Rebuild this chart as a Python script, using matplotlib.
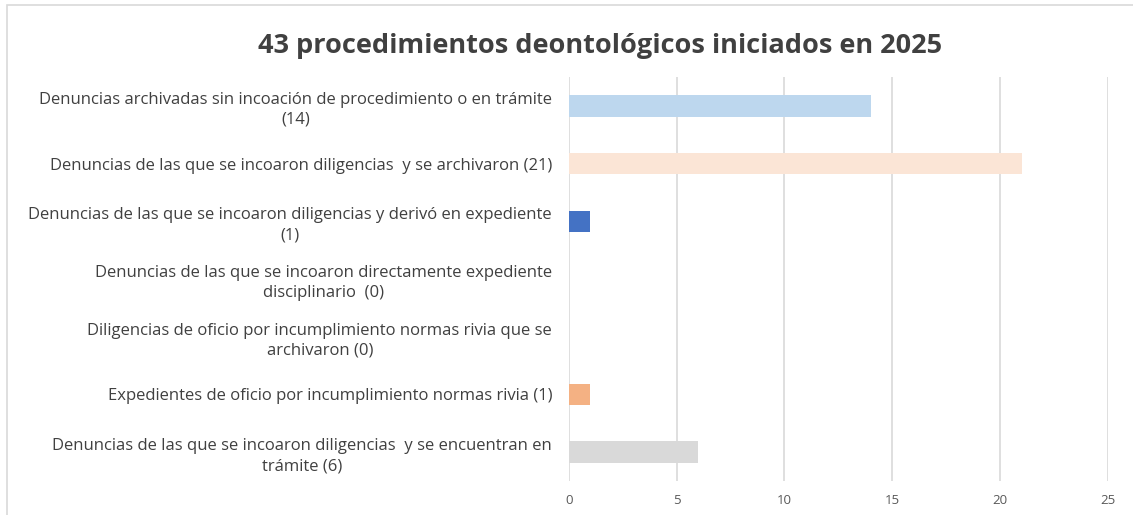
import numpy as np
import matplotlib
matplotlib.use('Agg')
from matplotlib import pyplot as plt
from matplotlib.patches import Rectangle

labels = [
    'Denuncias archivadas sin incoación de procedimiento o en trámite\n(14)',
    'Denuncias de las que se incoaron diligencias  y se archivaron (21)',
    'Denuncias de las que se incoaron diligencias y derivó en expediente\n(1)',
    'Denuncias de las que se incoaron directamente expediente\ndisciplinario  (0)',
    'Diligencias de oficio por incumplimiento normas rivia que se\narchivaron (0)',
    'Expedientes de oficio por incumplimiento normas rivia (1)',
    'Denuncias de las que se incoaron diligencias  y se encuentran en\ntrámite (6)',
]
values = [14, 21, 1, 0, 0, 1, 6]
colors = ['#BDD7EE', '#FBE5D6', '#4472C4', '#A5A5A5', '#FFC000', '#F4B183', '#D9D9D9']
xticks = [0, 5, 10, 15, 20, 25]
title = '43 procedimientos deontológicos iniciados en 2025'

plt.rcParams['font.family'] = ['Open Sans', 'DejaVu Sans']

fig = plt.figure(figsize=(11.33, 5.15), dpi=100)
ax = fig.add_axes([0.502, 0.066, 0.476, 0.784])

y = np.arange(len(labels))
ax.barh(y, values, height=0.37, color=colors, linewidth=0, zorder=3)
ax.set_ylim(len(labels) - 0.5, -0.5)
ax.set_xlim(0, 25)
ax.set_xticks(xticks)
ax.set_yticks(y)
ax.set_yticklabels(labels)
for lab in ax.get_yticklabels():
    lab.set_multialignment('center')
    lab.set_linespacing(1.32)

ax.grid(axis='x', color='#D9D9D9', linewidth=1.2, zorder=0)
for s in ax.spines.values():
    s.set_visible(False)
ax.tick_params(axis='y', length=0, pad=12, labelsize=12, labelcolor='#404040')
ax.tick_params(axis='x', length=0, pad=9, labelsize=9.5, labelcolor='#595959')

fig.text(0.53, 0.91, title, ha='center', va='center', fontsize=19.5,
         fontweight='bold', color='#404040')

# outer chart frame
fig.patches.append(Rectangle((7 / 1133, -0.1), 1.2, 1.1 - 5 / 515, transform=fig.transFigure,
                             fill=False, edgecolor='#D9D9D9', linewidth=1.2))

plt.savefig('out.png', dpi=100)
